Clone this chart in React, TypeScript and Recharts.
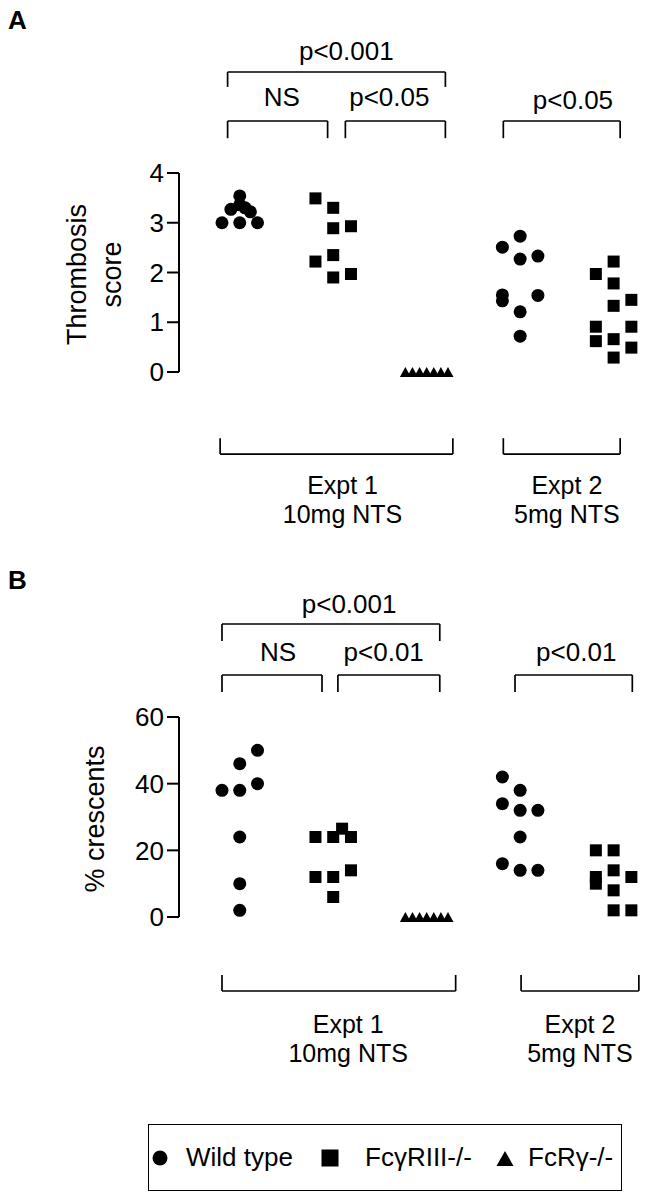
import React from 'react';
import { ScatterChart, Scatter, XAxis, YAxis, ReferenceLine, ReferenceDot, Legend } from 'recharts';

// Group positions on the shared x scale:
// Expt1 WT, Expt1 FcγRIII-/-, Expt1 FcRγ-/-, Expt2 WT, Expt2 FcγRIII-/-
const groupX = [1, 2, 3, 4, 5];
const seriesNames = ['Wild type', 'FcγRIII-/-', 'FcRγ-/-'];

// ---------- Panel A: thrombosis score ----------
const scoreTicks = [0, 1, 2, 3, 4];
const scoreWtE1 = [3.0, 3.0, 3.0, 3.27, 3.36, 3.22, 3.3, 3.54];
const scoreWtE1Col = [-1, 0, 1, -0.5, 0, 0.6, 0.3, 0];
const scoreR3E1 = [3.49, 3.3, 2.89, 2.93, 2.22, 2.35, 1.9, 1.97];
const scoreR3E1Col = [-1, 0, 0, 1, -1, 0, 0, 1];
const scoreRgE1 = [0, 0, 0, 0, 0, 0, 0];
const scoreRgE1Col = [-1.2, -0.8, -0.4, 0, 0.4, 0.8, 1.2];
const scoreWtE2 = [2.73, 2.51, 2.27, 2.33, 1.55, 1.43, 1.54, 1.21, 0.72];
const scoreWtE2Col = [0, -1, 0, 1, -1, -1, 1, 0, 0];
const scoreR3E2 = [2.22, 1.97, 1.78, 1.45, 1.33, 0.91, 0.62, 0.91, 0.66, 0.49, 0.29];
const scoreR3E2Col = [0, -1, 0, 1, 0, -1, -1, 1, 0, 1, 0];

// ---------- Panel B: % crescents ----------
const crescentTicks = [0, 20, 40, 60];
const crescWtE1 = [50, 46, 40, 38, 38, 24, 10, 2];
const crescWtE1Col = [1, 0, 1, -1, 0, 0, 0, 0];
const crescR3E1 = [24, 24, 26.5, 24, 12, 12, 14, 6];
const crescR3E1Col = [-1, 0, 0.5, 1, -1, 0, 1, 0];
const crescRgE1 = [0, 0, 0, 0, 0, 0, 0];
const crescRgE1Col = [-1.2, -0.8, -0.4, 0, 0.4, 0.8, 1.2];
const crescWtE2 = [42, 38, 34, 32, 32, 24, 16, 14, 14];
const crescWtE2Col = [-1, 0, -1, 0, 1, 0, -1, 0, 1];
const crescR3E2 = [20, 20, 12, 10, 14, 12, 8, 2, 2];
const crescR3E2Col = [-1, 0, -1, -1, 0, 1, 0, 0, 1];

// Statistical annotations and group captions (data units)
const bracketsA = [
  { x1: 0.87, x2: 3.2, y: 6.03, tip: 5.73 },
  { x1: 0.87, x2: 1.94, y: 5.045, tip: 4.7 },
  { x1: 2.13, x2: 3.2, y: 5.045, tip: 4.7 },
  { x1: 3.82, x2: 5.07, y: 5.045, tip: 4.7 },
  { x1: 0.79, x2: 3.28, y: -1.65, tip: -1.33 },
  { x1: 3.82, x2: 5.07, y: -1.65, tip: -1.33 },
];
const labelsA = [
  { lines: ['p<0.001'], x: 2.14, y: 6.45 },
  { lines: ['NS'], x: 1.45, y: 5.53 },
  { lines: ['p<0.05'], x: 2.6, y: 5.53 },
  { lines: ['p<0.05'], x: 4.565, y: 5.47 },
  { lines: ['Expt 1', '10mg NTS'], x: 2.1, y: -2.27 },
  { lines: ['Expt 2', '5mg NTS'], x: 4.5, y: -2.27 },
];
const bracketsB = [
  { x1: 0.81, x2: 3.14, y: 87.9, tip: 82.8 },
  { x1: 0.81, x2: 1.88, y: 72.6, tip: 67.5 },
  { x1: 2.05, x2: 3.14, y: 72.6, tip: 67.5 },
  { x1: 3.945, x2: 5.2, y: 72.6, tip: 67.5 },
  { x1: 0.81, x2: 3.31, y: -22.2, tip: -17.4 },
  { x1: 4.01, x2: 5.27, y: -22.2, tip: -17.4 },
];
const labelsB = [
  { lines: ['p<0.001'], x: 2.17, y: 94.05 },
  { lines: ['NS'], x: 1.41, y: 79.5 },
  { lines: ['p<0.01'], x: 2.54, y: 79.5 },
  { lines: ['p<0.01'], x: 4.6, y: 79.7 },
  { lines: ['Expt 1', '10mg NTS'], x: 2.16, y: -32.2 },
  { lines: ['Expt 2', '5mg NTS'], x: 4.64, y: -32.2 },
];

const JITTER = 0.19;
const FONT = 26;
const CAPTION_FONT = 25;
const LINE_GAP = 29;

const toPoints = (gx: number, values: number[], cols: number[]) =>
  values.map((v, i) => ({ x: gx + cols[i] * JITTER, y: v }));

const CircleShape = (p: any) => <circle cx={p.cx} cy={p.cy} r={6.5} fill="#000" />;
const SquareShape = (p: any) => <rect x={p.cx - 6} y={p.cy - 6} width={12} height={12} fill="#000" />;
const TriangleShape = (p: any) => (
  <polygon points={`${p.cx - 5.5},${p.cy + 5} ${p.cx + 5.5},${p.cy + 5} ${p.cx},${p.cy - 5}`} fill="#000" />
);

const legendIcon = (type: string) => {
  if (type === 'circle') return <circle cx={9} cy={9} r={7.5} fill="#000" />;
  if (type === 'square') return <rect x={0.5} y={0.5} width={17} height={17} fill="#000" />;
  return <polygon points="0.5,17 17.5,17 9,2" fill="#000" />;
};

const itemWidths = [170, 175, 125];
const iconGaps = [17, 26, 14];

const renderLegend = (props: any) => {
  const payload = props.payload || [];
  const ordered = seriesNames
    .map((n) => payload.find((e: any) => e.value === n))
    .filter(Boolean);
  return (
    <div style={{ display: 'flex', alignItems: 'center', height: '100%', paddingLeft: 2, fontSize: FONT, color: '#000' }}>
      {ordered.map((entry: any, i: number) => (
        <div key={i} style={{ display: 'flex', alignItems: 'center', width: itemWidths[i], flexShrink: 0, whiteSpace: 'nowrap' }}>
          <svg width={18} height={18} style={{ display: 'block', flexShrink: 0 }}>{legendIcon(entry.type)}</svg>
          <span style={{ marginLeft: iconGaps[i] }}>{entry.value}</span>
        </div>
      ))}
    </div>
  );
};

const makeTitle = (lines: string[], offsets: number[]) => (props: any) => {
  const vb = props.viewBox || { x: 0, y: 0, width: 0, height: 0 };
  const cy = vb.y + vb.height / 2 + 2;
  return (
    <g>
      {lines.map((line, i) => {
        const cx = vb.x + offsets[i];
        return (
          <text key={i} x={cx} y={cy} transform={`rotate(-90, ${cx}, ${cy})`} textAnchor="middle"
            dominantBaseline="central" fontSize={FONT + 1} fill="#000">{line}</text>
        );
      })}
    </g>
  );
};

const renderBracket = (b: any, key: string) => [
  <ReferenceLine key={key + 'h'} segment={[{ x: b.x1, y: b.y }, { x: b.x2, y: b.y }]} stroke="#000" strokeWidth={1.7} ifOverflow="visible" />,
  <ReferenceLine key={key + 'l'} segment={[{ x: b.x1, y: b.y }, { x: b.x1, y: b.tip }]} stroke="#000" strokeWidth={1.7} ifOverflow="visible" />,
  <ReferenceLine key={key + 'r'} segment={[{ x: b.x2, y: b.y }, { x: b.x2, y: b.tip }]} stroke="#000" strokeWidth={1.7} ifOverflow="visible" />,
];

const makeCaption = (lines: string[]) => (props: any) => {
  const vb = props.viewBox || { x: 0, y: 0, width: 0, height: 0 };
  const cx = vb.x + (vb.width || 0) / 2;
  const cy = vb.y + (vb.height || 0) / 2;
  return (
    <text x={cx} y={cy} textAnchor="middle" fontSize={lines.length > 1 ? CAPTION_FONT : FONT} fill="#000">
      {lines.map((line, i) => (
        <tspan key={i} x={cx} dy={i === 0 ? '0.355em' : LINE_GAP}>{line}</tspan>
      ))}
    </text>
  );
};

const renderText = (l: any, key: string) => (
  <ReferenceDot key={key} x={l.x} y={l.y} r={0} fill="none" stroke="none" ifOverflow="visible"
    label={{ content: makeCaption(l.lines) }} />
);

const X_DOMAIN = [0.35, 5.4];

function Panel(props: any) {
  const { width, height, marginTop, marginBottom, domain, ticks, series, brackets, labels, title, withLegend, legendTop } = props;
  return (
    <ScatterChart width={width} height={height} margin={{ top: marginTop, bottom: marginBottom, left: 0, right: 3 }}>
      <XAxis type="number" dataKey="x" domain={X_DOMAIN} hide />
      <YAxis type="number" dataKey="y" domain={domain} ticks={ticks} interval={0} width={179}
        tickSize={12} tickMargin={3} axisLine={{ stroke: '#000', strokeWidth: 2 }}
        tickLine={{ stroke: '#000', strokeWidth: 2 }} tick={{ fill: '#000', fontSize: FONT }}
        label={{ content: title }} />
      {brackets.flatMap((b: any, i: number) => renderBracket(b, 'b' + i))}
      {labels.map((l: any, i: number) => renderText(l, 't' + i))}
      <Scatter name={seriesNames[0]} data={series[0]} legendType="circle" fill="#000" shape={CircleShape} isAnimationActive={false} />
      <Scatter name={seriesNames[1]} data={series[1]} legendType="square" fill="#000" shape={SquareShape} isAnimationActive={false} />
      <Scatter name={seriesNames[2]} data={series[2]} legendType="triangle" fill="#000" shape={TriangleShape} isAnimationActive={false} />
      {withLegend && (
        <Legend layout="horizontal" verticalAlign="middle" align="center" content={renderLegend}
          wrapperStyle={{ position: 'absolute', left: 148, top: legendTop, width: 474, height: 67, border: '1.6px solid #000', boxSizing: 'border-box', margin: 0 }} />
      )}
    </ScatterChart>
  );
}

export default function App() {
  const seriesA = [
    [...toPoints(groupX[0], scoreWtE1, scoreWtE1Col), ...toPoints(groupX[3], scoreWtE2, scoreWtE2Col)],
    [...toPoints(groupX[1], scoreR3E1, scoreR3E1Col), ...toPoints(groupX[4], scoreR3E2, scoreR3E2Col)],
    toPoints(groupX[2], scoreRgE1, scoreRgE1Col),
  ];
  const seriesB = [
    [...toPoints(groupX[0], crescWtE1, crescWtE1Col), ...toPoints(groupX[3], crescWtE2, crescWtE2Col)],
    [...toPoints(groupX[1], crescR3E1, crescR3E1Col), ...toPoints(groupX[4], crescR3E2, crescR3E2Col)],
    toPoints(groupX[2], crescRgE1, crescRgE1Col),
  ];
  return (
    <div style={{ position: 'absolute', left: 0, top: 0, width: 654, height: 1200, background: '#fff',
      fontFamily: '"Liberation Sans", Arial, Helvetica, sans-serif', color: '#000' }}>
      <div style={{ position: 'absolute', left: 0, top: 0 }}>
        <Panel width={654} height={545} marginTop={173} marginBottom={173} domain={[0, 4]} ticks={scoreTicks}
          series={seriesA} brackets={bracketsA} labels={labelsA}
          title={makeTitle(['Thrombosis', 'score'], [77, 112])} />
      </div>
      <div style={{ position: 'absolute', left: 0, top: 545 }}>
        <Panel width={654} height={655} marginTop={172} marginBottom={283} domain={[0, 60]} ticks={crescentTicks}
          series={seriesB} brackets={bracketsB} labels={labelsB}
          title={makeTitle(['% crescents'], [95])} withLegend legendTop={579} />
      </div>
      <div style={{ position: 'absolute', left: 8, top: 5, fontSize: 26, fontWeight: 'bold' }}>A</div>
      <div style={{ position: 'absolute', left: 8, top: 565, fontSize: 26, fontWeight: 'bold' }}>B</div>
    </div>
  );
}
